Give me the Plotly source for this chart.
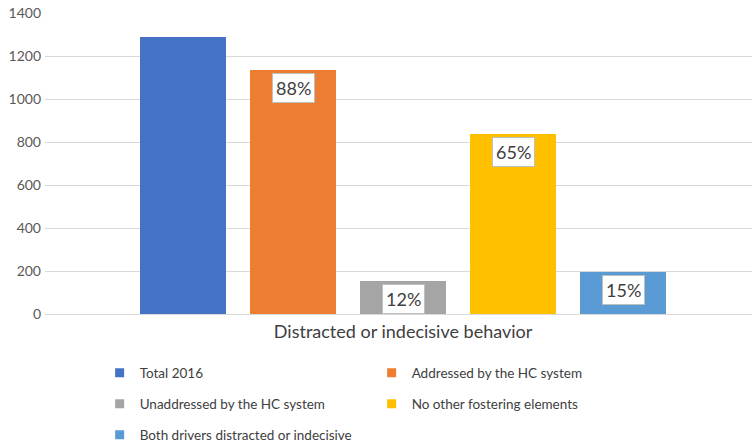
import plotly.graph_objects as go

category = "Distracted or indecisive behavior"
series_names = ["Total 2016", "Addressed by the HC system", "Unaddressed by the HC system",
                "No other fostering elements", "Both drivers distracted or indecisive"]
series_values = [1290, 1135, 155, 838, 197]
series_labels = [None, "88%", "12%", "65%", "15%"]
series_colors = ["#4472C4", "#ED7D31", "#A5A5A5", "#FFC000", "#5B9BD5"]
legend_rows = ["legend", "legend", "legend2", "legend2", "legend3"]
y_ticks = [0, 200, 400, 600, 800, 1000, 1200, 1400]

FONT = "Lato"
fig = go.Figure()
for i, (name, val, col) in enumerate(zip(series_names, series_values, series_colors)):
    fig.add_trace(go.Bar(x=[i], y=[val], name=name, marker=dict(color=col, line=dict(width=0)),
                         width=0.78, showlegend=False, hoverinfo="skip"))
    fig.add_trace(go.Scatter(x=[None], y=[None], mode="markers", name=name,
                             marker=dict(symbol="square", size=9, color=col),
                             legend=legend_rows[i], showlegend=True))
    if series_labels[i]:
        fig.add_annotation(x=i, y=val, yref="y", xref="x", text=series_labels[i],
                           showarrow=False, yanchor="top", yshift=-3,
                           font=dict(family=FONT, size=18, color="#404040"),
                           bgcolor="white", bordercolor="#BFBFBF", borderwidth=1, borderpad=3)

legend_common = dict(orientation="h", entrywidth=227, entrywidthmode="pixels",
                     font=dict(family=FONT, size=13.5, color="#404040"),
                     bgcolor="rgba(0,0,0,0)", xanchor="left", yanchor="middle", itemwidth=30)
lx = 0.09 - 9 / 707
fig.update_layout(
    width=753, height=447,
    margin=dict(l=45, r=1, t=13, b=133, autoexpand=False),
    paper_bgcolor="white", plot_bgcolor="white",
    bargap=0,
    xaxis=dict(range=[-1.255, 5.172], tickvals=[2], ticktext=[category], showgrid=False,
               zeroline=False, showline=False, ticks="", fixedrange=True, ticklabelstandoff=5,
               automargin=False,
               tickfont=dict(family=FONT, size=18, color="#404040")),
    yaxis=dict(range=[0, 1400], tickvals=y_ticks, showgrid=True, gridcolor="#D9D9D9", gridwidth=1,
               zeroline=True, zerolinecolor="#D9D9D9", zerolinewidth=1, showline=False, ticks="",
               ticklabelstandoff=3, automargin=False,
               tickfont=dict(family=FONT, size=14, color="#595959"), fixedrange=True),
    legend=dict(**legend_common, x=lx, y=-0.196),
    legend2=dict(**legend_common, x=lx, y=-0.299),
    legend3=dict(**legend_common, x=lx, y=-0.402),
)
fig.write_html("out.html")
